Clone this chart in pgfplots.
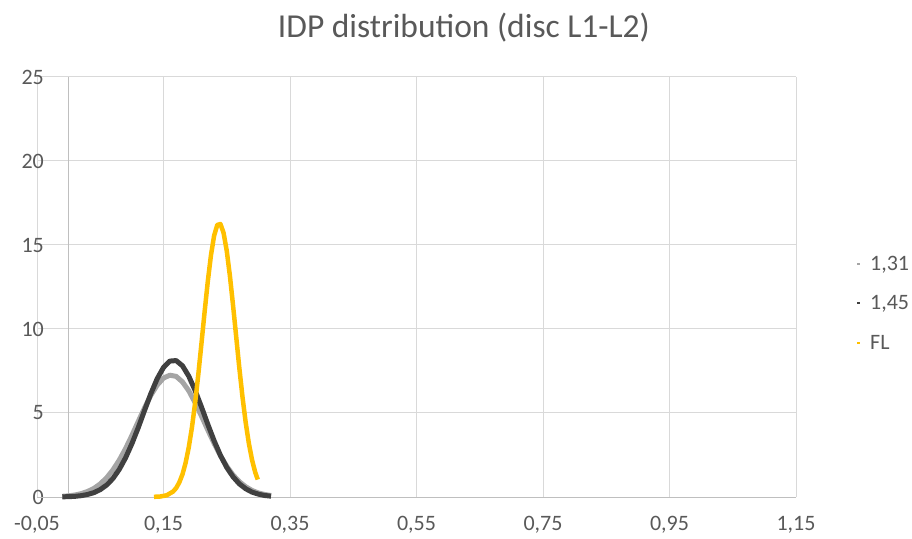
\documentclass[border=0pt]{standalone}
\usepackage{pgfplots}
\pgfplotsset{compat=1.18}
\usepackage{fontspec}
\setmainfont{Carlito}

\definecolor{gridgray}{HTML}{D9D9D9}
\definecolor{axisgray}{HTML}{BFBFBF}
\definecolor{labelgray}{HTML}{595959}
\definecolor{lightser}{HTML}{A5A5A5}
\definecolor{darkser}{HTML}{404040}
\definecolor{goldser}{HTML}{FFC000}

\begin{document}
\begin{tikzpicture}
\useasboundingbox (0,0) rectangle (912bp,539bp);
\node[text=labelgray, font=\fontsize{33.5bp}{38bp}\selectfont] at (464bp,511bp) {IDP distribution (disc L1-L2)};
\begin{axis}[
  at={(37bp,42bp)}, anchor=south west,
  scale only axis, width=759bp, height=420bp,
  xmin=-0.05, xmax=1.15, ymin=0, ymax=25,
  xtick={-0.05,0.15,0.35,0.55,0.75,0.95,1.15},
  xticklabels={{-0,05},{0,15},{0,35},{0,55},{0,75},{0,95},{1,15}},
  ytick={0,5,10,15,20,25},
  yticklabels={0,5,10,15,20,25},
  extra x ticks={0}, extra x tick labels={},
  extra x tick style={grid=major, major grid style={axisgray, line width=1bp}},
  grid=major,
  major grid style={gridgray, line width=1bp},
  major tick length=0pt,
  axis line style={draw=none},
  tick label style={text=labelgray, font=\fontsize{22bp}{26bp}\selectfont, inner sep=0pt},
  xticklabel style={anchor=north, yshift=-19bp},
  yticklabel style={anchor=east, xshift=7bp},
  legend style={at={(1.079,0.343)}, anchor=south west, draw=none, fill=none,
    font=\fontsize{22bp}{26bp}\selectfont, text=labelgray,
    row sep=20bp, inner sep=0pt,
    legend cell align=left},
  legend image code/.code={\draw[#1, line width=2bp] (0bp,0bp) -- (2.5bp,0bp);
    \path[draw=none, fill=none] (0bp,0bp) -- (11bp,0bp);},
  clip=false,
]
% horizontal axis line along y = 0
\draw[axisgray, line width=1bp] (axis cs:-0.05,0) -- (axis cs:1.15,0);

\addplot[lightser, line width=5bp, line join=round] coordinates {
(-0.01,0.04) (0.00,0.07) (0.01,0.12) (0.02,0.20) (0.03,0.33) (0.04,0.51)
(0.05,0.78) (0.06,1.14) (0.07,1.61) (0.08,2.19) (0.09,2.88) (0.10,3.66)
(0.11,4.49) (0.12,5.30) (0.13,6.05) (0.14,6.66) (0.15,7.08) (0.16,7.25)
(0.17,7.18) (0.18,6.85) (0.19,6.32) (0.20,5.61) (0.21,4.82) (0.22,3.99)
(0.23,3.19) (0.24,2.46) (0.25,1.83) (0.26,1.31) (0.27,0.91) (0.28,0.61)
(0.29,0.39) (0.30,0.24) (0.31,0.15) (0.32,0.09)
};
\addlegendentry{1,31}

\addplot[darkser, line width=5bp, line join=round] coordinates {
(-0.01,0.01) (0.00,0.02) (0.01,0.04) (0.02,0.08) (0.03,0.15) (0.04,0.26)
(0.05,0.44) (0.06,0.71) (0.07,1.10) (0.08,1.64) (0.09,2.33) (0.10,3.17)
(0.11,4.12) (0.12,5.15) (0.13,6.15) (0.14,7.04) (0.15,7.71) (0.16,8.09)
(0.17,8.12) (0.18,7.81) (0.19,7.19) (0.20,6.34) (0.21,5.36) (0.22,4.33)
(0.23,3.35) (0.24,2.48) (0.25,1.76) (0.26,1.20) (0.27,0.78) (0.28,0.49)
(0.29,0.29) (0.30,0.17) (0.31,0.09) (0.32,0.05)
};
\addlegendentry{1,45}

\addplot[goldser, line width=4.5bp, line join=round] coordinates {
(0.135,0.01) (0.145,0.03) (0.155,0.10) (0.165,0.32) (0.170,0.53) (0.175,0.87)
(0.180,1.35) (0.185,2.04) (0.190,2.97) (0.195,4.15) (0.200,5.60) (0.205,7.28)
(0.210,9.13) (0.215,11.02) (0.220,12.82) (0.225,14.38) (0.230,15.55) (0.235,16.19)
(0.240,16.25) (0.245,15.72) (0.250,14.65) (0.255,13.16) (0.260,11.39) (0.265,9.51)
(0.270,7.64) (0.275,5.92) (0.280,4.42) (0.285,3.18) (0.290,2.21) (0.295,1.47)
(0.299,1.04)
};
\addlegendentry{FL}
\end{axis}
\end{tikzpicture}
\end{document}
